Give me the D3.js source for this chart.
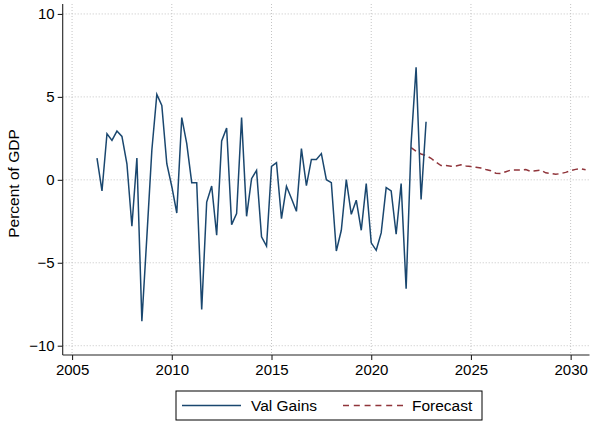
<!DOCTYPE html>
<html>
<head>
<meta charset="utf-8">
<script src="https://cdn.jsdelivr.net/npm/d3@7"></script>
<style>
  html, body { margin: 0; padding: 0; background: #fff; }
  svg { display: block; font-family: "Liberation Sans", Arial, Helvetica, sans-serif; }
</style>
</head>
<body>
<svg id="chart" width="590" height="421"></svg>
<script>
// ---- Data ----
const valStart = 2006.25;   // first quarter of Val Gains (2006Q2)
const valGains = [
  1.31, -0.67, 2.78, 2.38, 2.94, 2.62, 0.97, -2.80,
  1.31, -8.52, -3.44, 1.78, 5.15, 4.49, 0.97, -0.40,
  -2.00, 3.75, 2.18, -0.17, -0.17, -7.82, -1.34, -0.37,
  -3.34, 2.34, 3.12, -2.70, -2.04, 3.75, -2.20, 0.07,
  0.57, -3.44, -4.00, 0.81, 1.03, -2.34, -0.39, -1.13,
  -1.90, 1.88, -0.35, 1.23, 1.23, 1.58, 0.01, -0.17,
  -4.29, -3.04, 0.01, -2.08, -1.23, -3.04, -0.23, -3.80,
  -4.25, -3.20, -0.47, -0.67, -3.28, -0.23, -6.56, 2.20,
  6.78, -1.18, 3.50
];
const fcStart = 2022.0;     // first quarter of Forecast (2022Q1)
const forecast = [
  1.94, 1.72, 1.56, 1.46, 1.30, 1.06, 0.86, 0.87,
  0.82, 0.84, 0.91, 0.84, 0.80, 0.76, 0.71, 0.62,
  0.55, 0.40, 0.38, 0.49, 0.59, 0.59, 0.60, 0.62,
  0.51, 0.55, 0.59, 0.42, 0.38, 0.33, 0.38, 0.45,
  0.55, 0.63, 0.67, 0.61
];
const xTicks = [2005, 2010, 2015, 2020, 2025, 2030];
const yTicks = [-10, -5, 0, 5, 10];
const seriesNames = ["Val Gains", "Forecast"];
const yTitle = "Percent of GDP";

// ---- Layout ----
const svg = d3.select("#chart");
const pL = 62.7, pR = 589.5, pT = 4, pB = 355;
const x = d3.scaleLinear().domain([2004.53, 2030.97]).range([pL, 590]);
const y = d3.scaleLinear().domain([-10.56, 10.6]).range([pB, pT]);

const blue = "#1a476f", red = "#90353b";
const gridColor = "#c4c4c4";

// Gridlines (dotted)
const grid = svg.append("g");
grid.selectAll("line.gy").data(yTicks).join("line")
  .attr("x1", pL).attr("x2", pR)
  .attr("y1", d => y(d)).attr("y2", d => y(d))
  .attr("stroke", gridColor).attr("stroke-width", 1)
  .attr("stroke-dasharray", "1,2");
grid.selectAll("line.gx").data(xTicks).join("line")
  .attr("y1", pT).attr("y2", pB)
  .attr("x1", d => x(d)).attr("x2", d => x(d))
  .attr("stroke", gridColor).attr("stroke-width", 1)
  .attr("stroke-dasharray", "1,2");

// Axes
const yAxis = d3.axisLeft(y).tickValues(yTicks).tickSize(5).tickSizeOuter(0).tickPadding(3)
  .tickFormat(d3.format("d"));
const gy = svg.append("g").attr("transform", `translate(${pL},0)`).call(yAxis);
const xAxis = d3.axisBottom(x).tickValues(xTicks).tickSize(5).tickSizeOuter(0).tickPadding(4)
  .tickFormat(d3.format("d"));
const gx = svg.append("g").attr("transform", `translate(0,${pB})`).call(xAxis);
[gx, gy].forEach(g => {
  g.selectAll("path.domain").attr("stroke", "#222").attr("stroke-width", 1.1);
  g.selectAll(".tick line").attr("stroke", "#222").attr("stroke-width", 1.1);
  g.selectAll("text").attr("font-size", 15).attr("fill", "#000")
    .attr("font-family", '"Liberation Sans", Arial, sans-serif');
});
gx.select("path.domain").attr("d", `M${pL},0H${pR}`);
gy.select("path.domain").attr("d", `M0,${pT}V${pB}`);

// Y title
svg.append("text")
  .attr("transform", `translate(19,${(pT + pB) / 2 + 4}) rotate(-90)`)
  .attr("text-anchor", "middle")
  .attr("font-size", 15.5)
  .text(yTitle);

// Lines
const valData = valGains.map((v, i) => ({ t: valStart + i * 0.25, v }));
const fcData = forecast.map((v, i) => ({ t: fcStart + i * 0.25, v }));
const line = d3.line().x(d => x(d.t)).y(d => y(d.v));

svg.append("path").datum(fcData)
  .attr("d", line).attr("fill", "none")
  .attr("stroke", red).attr("stroke-width", 1.5)
  .attr("stroke-dasharray", "6,4");
svg.append("path").datum(valData)
  .attr("d", line).attr("fill", "none")
  .attr("stroke", blue).attr("stroke-width", 1.5)
  .attr("stroke-linejoin", "miter");

// Legend
const lg = svg.append("g");
lg.append("rect").attr("x", 176).attr("y", 391).attr("width", 306).attr("height", 29)
  .attr("fill", "#fff").attr("stroke", "#000").attr("stroke-width", 1);
lg.append("line").attr("x1", 182).attr("x2", 241).attr("y1", 405.5).attr("y2", 405.5)
  .attr("stroke", blue).attr("stroke-width", 1.5);
lg.append("text").attr("x", 251).attr("y", 411).attr("font-size", 15.5).text(seriesNames[0]);
lg.append("line").attr("x1", 343).attr("x2", 403).attr("y1", 405.5).attr("y2", 405.5)
  .attr("stroke", red).attr("stroke-width", 1.5).attr("stroke-dasharray", "6,4.8");
lg.append("text").attr("x", 412).attr("y", 411).attr("font-size", 15.5).text(seriesNames[1]);
</script>
</body>
</html>
